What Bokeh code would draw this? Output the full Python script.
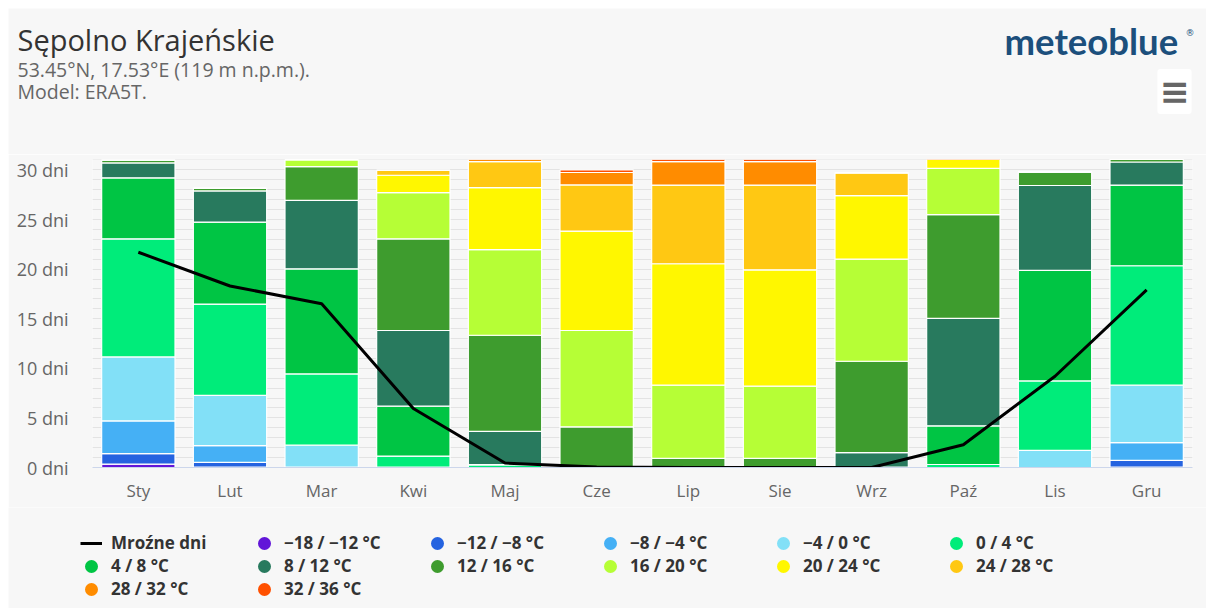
from bokeh.plotting import figure
from bokeh.layouts import column
from bokeh.models import (ColumnDataSource, Legend, LegendItem, Label, FixedTicker,
                          PrintfTickFormatter, Range1d)
from bokeh.embed import file_html
from bokeh.resources import INLINE

# ---------------- data ----------------
months = ["Sty", "Lut", "Mar", "Kwi", "Maj", "Cze", "Lip", "Sie", "Wrz", "Paź", "Lis", "Gru"]

band_labels = ["−18 / −12 °C", "−12 / −8 °C", "−8 / −4 °C", "−4 / 0 °C", "0 / 4 °C",
               "4 / 8 °C", "8 / 12 °C", "12 / 16 °C", "16 / 20 °C", "20 / 24 °C",
               "24 / 28 °C", "28 / 32 °C", "32 / 36 °C"]

d_m18_m12 = [0.35, 0.05, 0, 0, 0, 0, 0, 0, 0, 0, 0, 0.05]
d_m12_m8 = [1.05, 0.47, 0, 0, 0, 0, 0, 0, 0, 0, 0, 0.66]
d_m8_m4 = [3.3, 1.69, 0.05, 0, 0, 0, 0, 0, 0, 0, 0, 1.79]
d_m4_0 = [6.45, 5.06, 2.2, 0.05, 0, 0, 0, 0, 0, 0, 1.72, 5.8]
d_0_4 = [11.9, 9.21, 7.18, 1.1, 0.25, 0, 0, 0, 0, 0.3, 7.01, 12.04]
d_4_8 = [6.15, 8.26, 10.6, 5.03, 0.05, 0, 0, 0, 0.05, 3.9, 11.14, 8.13]
d_8_12 = [1.5, 3.14, 6.9, 7.63, 3.35, 0.05, 0, 0, 1.45, 10.84, 8.56, 2.33]
d_12_16 = [0.3, 0.27, 3.4, 9.24, 9.68, 4.05, 0.91, 0.91, 9.21, 10.46, 1.37, 0.26]
d_16_20 = [0, 0, 0.7, 4.66, 8.64, 9.71, 7.39, 7.29, 10.29, 4.65, 0, 0]
d_20_24 = [0, 0, 0, 1.75, 6.24, 10.02, 12.24, 11.73, 6.4, 0.98, 0, 0]
d_24_28 = [0, 0, 0, 0.5, 2.63, 4.66, 7.93, 8.54, 2.3, 0, 0, 0]
d_28_32 = [0, 0, 0, 0, 0.23, 1.25, 2.36, 2.36, 0, 0, 0, 0]
d_32_36 = [0, 0, 0, 0, 0, 0.26, 0.23, 0.23, 0, 0, 0, 0]

frost_days = [21.7, 18.3, 16.5, 5.95, 0.45, 0.05, 0, 0, 0, 2.3, 9.2, 17.9]

band_colors = ["#6216d8", "#2563e0", "#45b0f5", "#82e0f7", "#00ec7a", "#00c544",
               "#287a5e", "#3e9c2e", "#b6fe36", "#fff700", "#ffc813", "#ff8c00", "#ff5000"]

y_ticks = [0, 5, 10, 15, 20, 25, 30]

# ---------------- source ----------------
band_series = [d_m18_m12, d_m12_m8, d_m8_m4, d_m4_0, d_0_4, d_4_8, d_8_12,
               d_12_16, d_16_20, d_20_24, d_24_28, d_28_32, d_32_36]
keys = ["b%d" % i for i in range(len(band_series))]
data = {"month": months}
for k, s in zip(keys, band_series):
    data[k] = s
source = ColumnDataSource(data)

BG = "#f7f7f7"
FONT = "Open Sans"
W = 1198
NAN = float("nan")


def blank_fig(h):
    f = figure(width=W, height=h, output_backend="svg", toolbar_location=None,
               x_axis_type=None, y_axis_type=None, frame_align=False,
               min_border=0, min_border_left=0, min_border_right=0,
               min_border_top=0, min_border_bottom=0)
    f.background_fill_color = BG
    f.border_fill_color = BG
    f.outline_line_color = None
    f.grid.visible = False
    return f


# ---------------- header ----------------
header = blank_fig(146)


def lab(fig, x, y, text, size, color, font=FONT, style="normal", **kw):
    l = Label(x=x, y=y, x_units="screen", y_units="screen", text=text,
              text_font_size=size, text_color=color, text_font=font,
              text_font_style=style, **kw)
    fig.add_layout(l)
    return l


lab(header, 9, 114.7, "Sępolno Krajeńskie", "29px", "#333333", text_baseline="alphabetic")
lab(header, 9, 84.7, "53.45°N, 17.53°E (119 m n.p.m.).", "19.5px", "#666666", text_baseline="alphabetic")
lab(header, 9, 63.5, "Model: ERA5T.", "19.5px", "#666666", text_baseline="alphabetic")
lab(header, 996, 113.5, "meteoblue", "36.5px", "#1c4f7c", font="Lato", style="bold",
    text_baseline="alphabetic")
lab(header, 1177, 122, "®", "9px", "#1c4f7c", font="DejaVu Sans", text_baseline="alphabetic")
lab(header, 1166, 63, "≡", "36px", "#666666", font="DejaVu Sans", style="bold",
    text_align="center", text_baseline="middle",
    background_fill_color="white", padding=2, border_radius=3)

# ---------------- main chart ----------------
p = figure(width=W, height=353, x_range=months, y_range=Range1d(0, 31.05),
           output_backend="svg", toolbar_location=None,
           min_border_left=84, min_border_right=14, min_border_top=5, min_border_bottom=40)
p.background_fill_color = BG
p.border_fill_color = BG
p.outline_line_color = None

bars = p.vbar_stack(keys, x="month", width=0.8, color=band_colors, source=source,
                    line_color="white", line_width=1.2)
frost = p.line(x=months, y=frost_days, line_color="black", line_width=3)

p.xgrid.grid_line_color = None
p.ygrid.ticker = FixedTicker(ticks=list(range(0, 32)))
p.ygrid.grid_line_color = "#e3e3e3"
p.ygrid.grid_line_width = 1
p.ygrid.level = "underlay"

p.yaxis.ticker = FixedTicker(ticks=y_ticks)
p.yaxis.formatter = PrintfTickFormatter(format="%d dni")
p.yaxis.axis_line_color = None
p.yaxis.major_tick_line_color = None
p.yaxis.minor_tick_line_color = None
p.yaxis.major_tick_out = 0
p.yaxis.major_label_standoff = 24
p.yaxis.major_label_text_color = "#666666"
p.yaxis.major_label_text_font_size = "18px"
p.yaxis.major_label_text_font = FONT

p.xaxis.axis_line_color = "#ccd6eb"
p.xaxis.major_tick_line_color = None
p.xaxis.minor_tick_line_color = None
p.xaxis.major_tick_out = 0
p.xaxis.major_label_standoff = 11
p.xaxis.major_label_text_color = "#666666"
p.xaxis.major_label_text_font_size = "17px"
p.xaxis.major_label_text_font = FONT

# ---------------- legend ----------------
legfig = blank_fig(101)
frost_key = legfig.line(x=[NAN, NAN], y=[NAN, NAN], line_color="black", line_width=3)
legend_markers = []
for c in band_colors:
    r = legfig.scatter(x=[NAN], y=[NAN], marker="circle", size=8, fill_color=c,
                       line_color=c, line_width=5)
    legend_markers.append(r)

items = [LegendItem(label="Mroźne dni", renderers=[frost_key])]
items += [LegendItem(label=lb, renderers=[r]) for lb, r in zip(band_labels, legend_markers)]
legend = Legend(items=items, orientation="horizontal", ncols=6, location=(72, 8),
                glyph_width=22, glyph_height=20, label_height=20, label_standoff=9,
                label_width=142, spacing=0, padding=0, margin=0,
                border_line_color=None, background_fill_alpha=0,
                label_text_font_size="17px", label_text_font_style="bold",
                label_text_color="#333333", label_text_font=FONT)
legfig.add_layout(legend)

layout = column(header, p, legfig, spacing=0, margin=(8, 0, 0, 8))

open("out.html", "w").write(file_html(layout, INLINE))
